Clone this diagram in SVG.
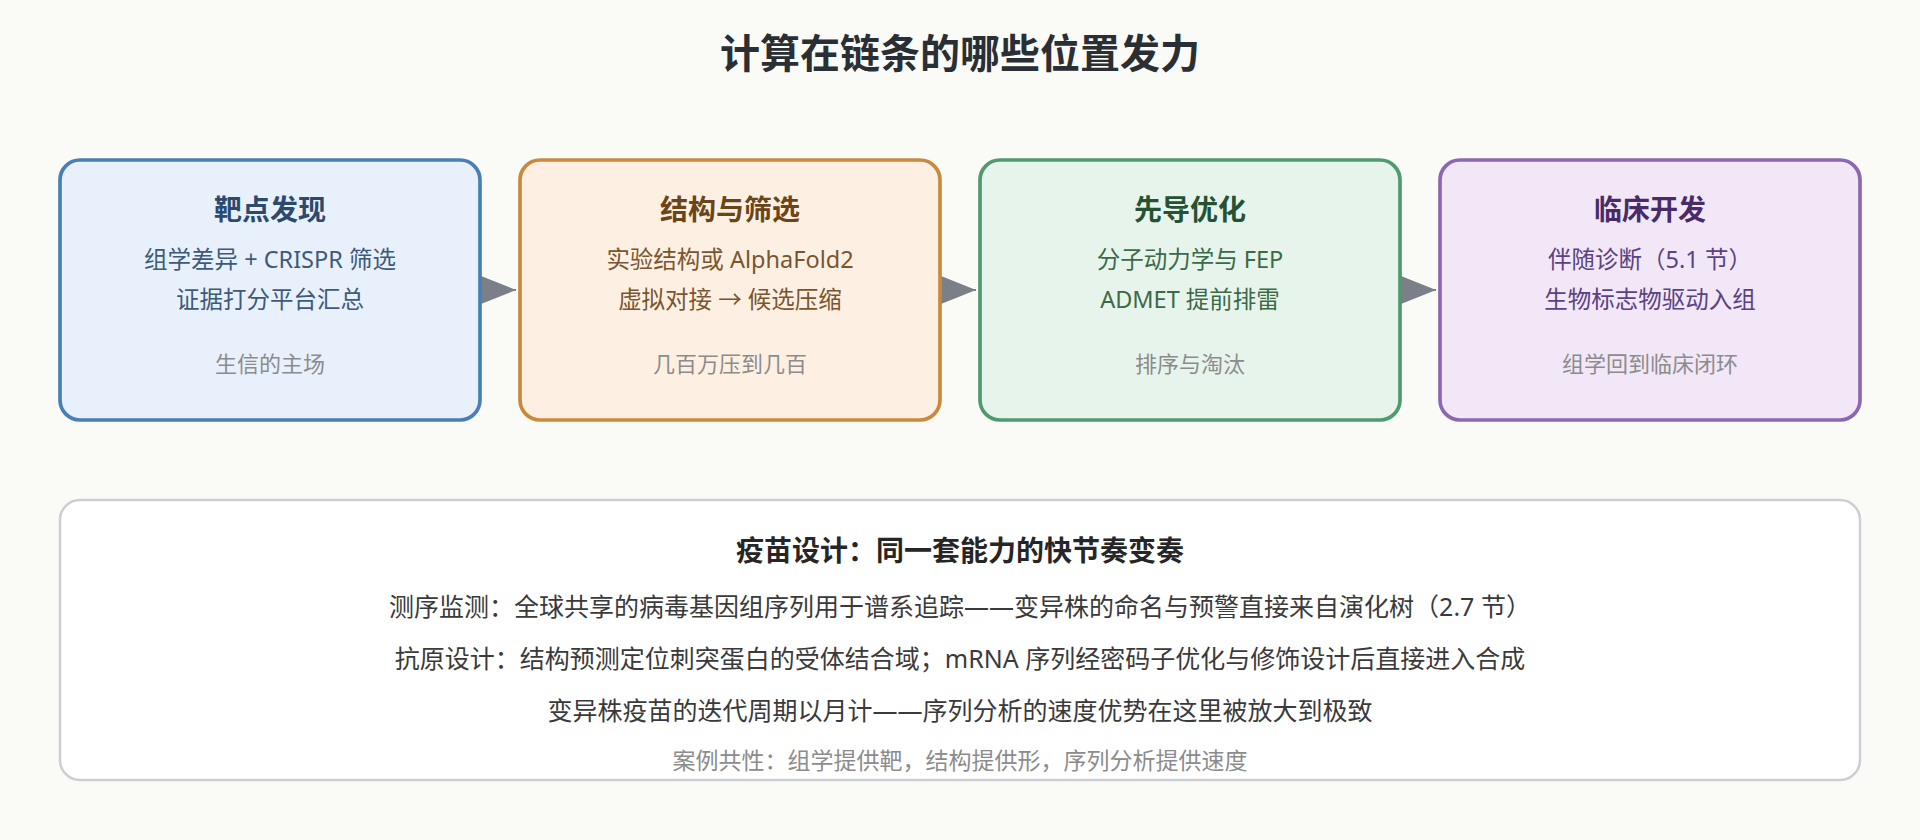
<svg xmlns="http://www.w3.org/2000/svg" width="1920" height="840" viewBox="0 0 1920 840">
<style>
text{font-family:"Noto Sans","Noto Sans CJK SC",sans-serif;text-anchor:middle}
.h{font-size:40px;font-weight:700;fill:#2a2e35}
.t{font-size:28px;font-weight:700}
.b{font-size:23.5px}
.s{font-size:22px;fill:#8c8c8c}
.box{stroke-width:3.7}
.vt{font-size:28px;font-weight:700;fill:#262626}
.vb{font-size:25px;fill:#3a3a3a}
.vs{font-size:23px;fill:#8c8c8c}
.con{stroke:#7b7f88;stroke-width:2;fill:none}
</style>
<defs>
<marker id="arr" markerUnits="userSpaceOnUse" markerWidth="40" markerHeight="32" refX="40" refY="16" orient="auto">
<path d="M0,0 L40,16 L0,32 Z" fill="#7b7f88"/>
</marker>
</defs>
<rect width="1920" height="840" fill="#fafaf6"/>
<text class="h" x="960" y="68">计算在链条的哪些位置发力</text>
<g id="connectors">
<path class="con" d="M476,290 L516,290" marker-end="url(#arr)"/>
<path class="con" d="M936,290 L976,290" marker-end="url(#arr)"/>
<path class="con" d="M1396,290 L1436,290" marker-end="url(#arr)"/>
</g>
<g id="n1">
<rect class="box" x="60" y="160" width="420" height="260" rx="20" fill="#e8f0fb" stroke="#4a7fb5"/>
<text class="t" x="270" y="220" fill="#2c4a6e">靶点发现</text>
<text class="b" x="270" y="268" fill="#3d5a7c">组学差异 + CRISPR 筛选</text>
<text class="b" x="270" y="308" fill="#3d5a7c">证据打分平台汇总</text>
<text class="s" x="270" y="372">生信的主场</text>
</g>
<g id="n2">
<rect class="box" x="520" y="160" width="420" height="260" rx="20" fill="#fdf0e3" stroke="#c98a3e"/>
<text class="t" x="730" y="220" fill="#6b4518">结构与筛选</text>
<text class="b" x="730" y="268" fill="#7a5530">实验结构或 AlphaFold2</text>
<text class="b" x="730" y="308" fill="#7a5530">虚拟对接 → 候选压缩</text>
<text class="s" x="730" y="372">几百万压到几百</text>
</g>
<g id="n3">
<rect class="box" x="980" y="160" width="420" height="260" rx="20" fill="#e7f4eb" stroke="#4f9a6e"/>
<text class="t" x="1190" y="220" fill="#245232">先导优化</text>
<text class="b" x="1190" y="268" fill="#3b6a48">分子动力学与 FEP</text>
<text class="b" x="1190" y="308" fill="#3b6a48">ADMET 提前排雷</text>
<text class="s" x="1190" y="372">排序与淘汰</text>
</g>
<g id="n4">
<rect class="box" x="1440" y="160" width="420" height="260" rx="20" fill="#f1e7f7" stroke="#8b68b0"/>
<text class="t" x="1650" y="220" fill="#4a2b6a">临床开发</text>
<text class="b" x="1650" y="268" fill="#5b4282">伴随诊断（5.1 节）</text>
<text class="b" x="1650" y="308" fill="#5b4282">生物标志物驱动入组</text>
<text class="s" x="1650" y="372">组学回到临床闭环</text>
</g>
<g id="vaccine">
<rect x="60" y="500" width="1800" height="280" rx="20" fill="#ffffff" stroke="#cdcdd4" stroke-width="2.5"/>
<text class="vt" x="960" y="561">疫苗设计：同一套能力的快节奏变奏</text>
<text class="vb" x="960" y="616">测序监测：全球共享的病毒基因组序列用于谱系追踪——变异株的命名与预警直接来自演化树（2.7 节）</text>
<text class="vb" x="960" y="668">抗原设计：结构预测定位刺突蛋白的受体结合域；mRNA 序列经密码子优化与修饰设计后直接进入合成</text>
<text class="vb" x="960" y="720">变异株疫苗的迭代周期以月计——序列分析的速度优势在这里被放大到极致</text>
<text class="vs" x="960" y="769">案例共性：组学提供靶，结构提供形，序列分析提供速度</text>
</g>
</svg>
